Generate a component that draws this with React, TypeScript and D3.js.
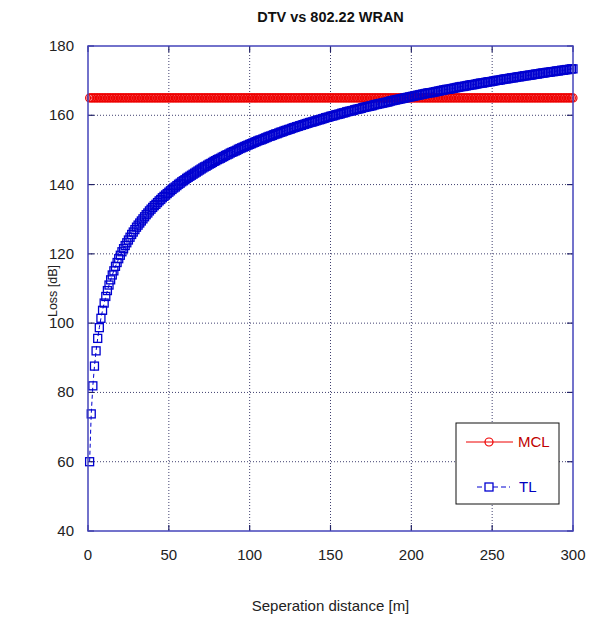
import React from "react";
import * as d3 from "d3";

const title = "DTV vs 802.22 WRAN";
const xLabel = "Seperation distance [m]";
const yLabel = "Loss [dB]";
const xTicks = [0, 50, 100, 150, 200, 250, 300];
const yTicks = [40, 60, 80, 100, 120, 140, 160, 180];

// separation distance 1..300 m
const distances: number[] = d3.range(1, 301);

// MCL: constant minimum coupling loss [dB]
const mclLoss = 165;

// TL: transmission loss [dB], one per metre
const tlLoss: number[] = [
  60.0, 73.8, 81.9, 87.6, 92.0, 95.6, 98.7, 101.4, 103.7, 105.8,
  107.7, 109.4, 111.0, 112.5, 113.9, 115.1, 116.4, 117.5, 118.6, 119.6,
  120.6, 121.5, 122.4, 123.2, 124.0, 124.8, 125.6, 126.3, 127.0, 127.7,
  128.3, 128.9, 129.5, 130.1, 130.7, 131.3, 131.8, 132.4, 132.9, 133.4,
  133.9, 134.3, 134.8, 135.3, 135.7, 136.2, 136.6, 137.0, 137.4, 137.8,
  138.2, 138.6, 139.0, 139.3, 139.7, 140.1, 140.4, 140.8, 141.1, 141.4,
  141.8, 142.1, 142.4, 142.7, 143.0, 143.3, 143.6, 143.9, 144.2, 144.5,
  144.8, 145.1, 145.3, 145.6, 145.9, 146.1, 146.4, 146.7, 146.9, 147.2,
  147.4, 147.6, 147.9, 148.1, 148.4, 148.6, 148.8, 149.1, 149.3, 149.5,
  149.7, 149.9, 150.2, 150.4, 150.6, 150.8, 151.0, 151.2, 151.4, 151.6,
  151.8, 152.0, 152.2, 152.4, 152.6, 152.8, 152.9, 153.1, 153.3, 153.5,
  153.7, 153.9, 154.0, 154.2, 154.4, 154.6, 154.7, 154.9, 155.1, 155.2,
  155.4, 155.6, 155.7, 155.9, 156.0, 156.2, 156.4, 156.5, 156.7, 156.8,
  157.0, 157.1, 157.3, 157.4, 157.6, 157.7, 157.9, 158.0, 158.1, 158.3,
  158.4, 158.6, 158.7, 158.8, 159.0, 159.1, 159.3, 159.4, 159.5, 159.7,
  159.8, 159.9, 160.1, 160.2, 160.3, 160.4, 160.6, 160.7, 160.8, 161.0,
  161.1, 161.2, 161.3, 161.4, 161.6, 161.7, 161.8, 161.9, 162.0, 162.2,
  162.3, 162.4, 162.5, 162.6, 162.7, 162.8, 163.0, 163.1, 163.2, 163.3,
  163.4, 163.5, 163.6, 163.7, 163.8, 163.9, 164.1, 164.2, 164.3, 164.4,
  164.5, 164.6, 164.7, 164.8, 164.9, 165.0, 165.1, 165.2, 165.3, 165.4,
  165.5, 165.6, 165.7, 165.8, 165.9, 166.0, 166.1, 166.2, 166.3, 166.4,
  166.5, 166.5, 166.6, 166.7, 166.8, 166.9, 167.0, 167.1, 167.2, 167.3,
  167.4, 167.5, 167.5, 167.6, 167.7, 167.8, 167.9, 168.0, 168.1, 168.2,
  168.3, 168.3, 168.4, 168.5, 168.6, 168.7, 168.8, 168.8, 168.9, 169.0,
  169.1, 169.2, 169.3, 169.3, 169.4, 169.5, 169.6, 169.7, 169.7, 169.8,
  169.9, 170.0, 170.1, 170.1, 170.2, 170.3, 170.4, 170.5, 170.5, 170.6,
  170.7, 170.8, 170.8, 170.9, 171.0, 171.1, 171.1, 171.2, 171.3, 171.4,
  171.4, 171.5, 171.6, 171.6, 171.7, 171.8, 171.9, 171.9, 172.0, 172.1,
  172.2, 172.2, 172.3, 172.4, 172.4, 172.5, 172.6, 172.6, 172.7, 172.8,
  172.8, 172.9, 173.0, 173.0, 173.1, 173.2, 173.2, 173.3, 173.4, 173.4,
];

const W = 596;
const H = 620;
const M = { left: 88, right: 573, top: 46, bottom: 531 };

const RED = "#ee0000";
const BLUE = "#0000d0";
const AXIS = "#4444bb";
const TICK = "#222266";
const GRID = "#404070";
const FONT = "'Liberation Sans', Arial, Helvetica, sans-serif";

export default function App() {
  const x = d3.scaleLinear().domain([0, 300]).range([M.left, M.right]);
  const y = d3.scaleLinear().domain([40, 180]).range([M.bottom, M.top]);

  const tlLine = d3
    .line<number>()
    .x((_, i) => x(distances[i]))
    .y((v) => y(v))(tlLoss) as string;
  const mclLine = d3
    .line<number>()
    .x((d) => x(d))
    .y(() => y(mclLoss))(distances) as string;

  const sq = 8;
  const tickLen = 6;

  const legend = { x0: 456, y0: 423, x1: 559, y1: 504 };

  return (
    <svg
      width={W}
      height={H}
      style={{ position: "absolute", left: 0, top: 0, background: "#fff" }}
      fontFamily={FONT}
    >
      <rect x={0} y={0} width={W} height={H} fill="#fff" />
      {/* grid */}
      {xTicks.slice(1, -1).map((t) => (
        <line
          key={"gx" + t}
          x1={x(t)}
          x2={x(t)}
          y1={M.top}
          y2={M.bottom}
          stroke={GRID}
          strokeWidth={1}
          strokeDasharray="1,2"
        />
      ))}
      {yTicks.slice(1, -1).map((t) => (
        <line
          key={"gy" + t}
          x1={M.left}
          x2={M.right}
          y1={y(t)}
          y2={y(t)}
          stroke={GRID}
          strokeWidth={1}
          strokeDasharray="1,2"
        />
      ))}
      {/* ticks inside on all sides */}
      {xTicks.map((t) => (
        <g key={"tx" + t}>
          <line x1={x(t)} x2={x(t)} y1={M.bottom} y2={M.bottom - tickLen} stroke={TICK} strokeWidth={1.2} />
          <line x1={x(t)} x2={x(t)} y1={M.top} y2={M.top + tickLen} stroke={TICK} strokeWidth={1.2} />
        </g>
      ))}
      {yTicks.map((t) => (
        <g key={"ty" + t}>
          <line x1={M.left} x2={M.left + tickLen} y1={y(t)} y2={y(t)} stroke={TICK} strokeWidth={1.2} />
          <line x1={M.right} x2={M.right - tickLen} y1={y(t)} y2={y(t)} stroke={TICK} strokeWidth={1.2} />
        </g>
      ))}
      {/* MCL series */}
      <path d={mclLine} fill="none" stroke={RED} strokeWidth={1} />
      {distances.map((d, i) => (
        <circle key={"m" + i} cx={x(d)} cy={y(mclLoss)} r={4} fill="none" stroke={RED} strokeWidth={1.2} />
      ))}
      {/* TL series */}
      <path d={tlLine} fill="none" stroke={BLUE} strokeWidth={1} strokeDasharray="4,3" />
      {tlLoss.map((v, i) => (
        <rect
          key={"t" + i}
          x={x(distances[i]) - sq / 2}
          y={y(v) - sq / 2}
          width={sq}
          height={sq}
          fill="none"
          stroke={BLUE}
          strokeWidth={1.3}
        />
      ))}
      {/* axes box */}
      <rect
        x={M.left}
        y={M.top}
        width={M.right - M.left}
        height={M.bottom - M.top}
        fill="none"
        stroke={AXIS}
        strokeWidth={1.5}
      />
      {/* tick labels */}
      {xTicks.map((t) => (
        <text key={"lx" + t} x={x(t)} y={M.bottom + 29} textAnchor="middle" fontSize={15} fill="#222">
          {t}
        </text>
      ))}
      {yTicks.map((t) => (
        <text key={"ly" + t} x={M.left - 14} y={y(t) + 5} textAnchor="end" fontSize={15} fill="#222">
          {t}
        </text>
      ))}
      {/* titles */}
      <text x={(M.left + M.right) / 2} y={22} textAnchor="middle" fontSize={14.5} fontWeight="bold" fill="#111">
        {title}
      </text>
      <text x={(M.left + M.right) / 2} y={611} textAnchor="middle" fontSize={15} fill="#222">
        {xLabel}
      </text>
      <text
        transform={`translate(${57},${291}) rotate(-90)`}
        textAnchor="middle"
        fontSize={12.5}
        fill="#222"
      >
        {yLabel}
      </text>
      {/* legend */}
      <rect
        x={legend.x0}
        y={legend.y0}
        width={legend.x1 - legend.x0}
        height={legend.y1 - legend.y0}
        fill="#fff"
        stroke="#111"
        strokeWidth={1}
      />
      <line x1={466} x2={513} y1={442} y2={442} stroke={RED} strokeWidth={1} />
      <circle cx={489} cy={442} r={4} fill="none" stroke={RED} strokeWidth={1.2} />
      <text x={518} y={447} fontSize={15} fill="#c00000">
        MCL
      </text>
      <line x1={477} x2={510} y1={487} y2={487} stroke={BLUE} strokeWidth={1} strokeDasharray="5,3" />
      <rect x={489 - sq / 2} y={487 - sq / 2} width={sq} height={sq} fill="#fff" stroke={BLUE} strokeWidth={1.3} />
      <text x={519} y={492} fontSize={15} fill="#0000c0">
        TL
      </text>
    </svg>
  );
}
